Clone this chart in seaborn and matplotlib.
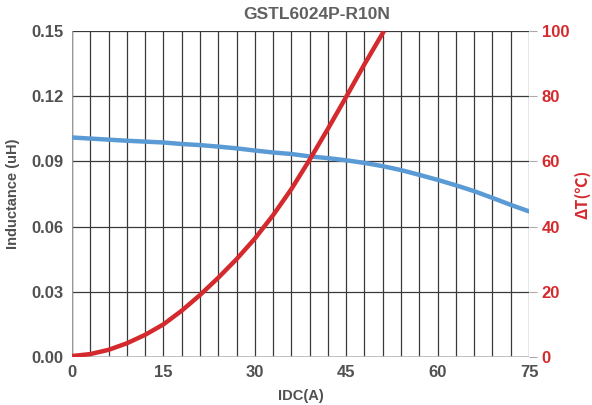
import matplotlib
matplotlib.use("Agg")
import matplotlib.pyplot as plt
import numpy as np
import pandas as pd
import seaborn as sns

# Datos
idc_l = [0, 3, 6, 9, 12, 15, 18, 21, 24, 27, 30, 33, 36, 39, 42, 45, 48, 51, 54, 57, 60, 63, 66, 69, 72, 75]
inductance = [0.1010, 0.1005, 0.1000, 0.0995, 0.0991, 0.0987, 0.0980, 0.0975, 0.0968, 0.0960, 0.0950,
              0.0941, 0.0934, 0.0923, 0.0915, 0.0905, 0.0893, 0.0878, 0.0860, 0.0838, 0.0815,
              0.0790, 0.0763, 0.0732, 0.0700, 0.0670]
idc_t = [0, 3, 6, 9, 12, 15, 18, 21, 24, 27, 30, 33, 36, 39, 42, 45, 48, 51.2]
delta_t = [0.3, 0.9, 2.2, 4.2, 6.8, 10.0, 14.2, 19.0, 24.3, 30.0, 36.3, 43.5, 51.5, 60.5, 70.0, 79.8, 89.8, 100.0]

df_l = pd.DataFrame({"idc": idc_l, "L": inductance})
df_t = pd.DataFrame({"idc": idc_t, "T": delta_t})

sns.set_style("white")
plt.rcParams["font.family"] = ["Liberation Sans", "DejaVu Sans"]
plt.rcParams["font.weight"] = "bold"

gray = "#505050"
red = "#d42a2e"
blue = "#5b9bd5"

fig = plt.figure(figsize=(5.92, 4.05), dpi=100)
ax = fig.add_axes([0.1216, 0.1185, 0.772, 0.805])
ax2 = ax.twinx()

# Rejilla
ax.set_xlim(0, 75)
ax.set_ylim(0, 0.15)
ax.set_xticks(np.arange(0, 76, 15))
ax.set_xticks(np.arange(0, 76, 3), minor=True)
ax.set_yticks([0, 0.03, 0.06, 0.09, 0.12, 0.15])
ax.grid(True, which="both", axis="x", color="#3a3a3a", linewidth=0.9)
ax.grid(True, which="major", axis="y", color="#3a3a3a", linewidth=0.9)
ax.set_axisbelow(True)
for s in list(ax.spines.values()) + list(ax2.spines.values()):
    s.set_visible(False)
ax.axhline(0, color="#bbbbbb", linewidth=1.2, zorder=1)
ax.axvline(0, color="#999999", linewidth=1.0, zorder=1)

sns.lineplot(data=df_l, x="idc", y="L", ax=ax, color=blue, linewidth=3.2,
             solid_joinstyle="round", solid_capstyle="round")
sns.lineplot(data=df_t, x="idc", y="T", ax=ax2, color=red, linewidth=3.2,
             solid_joinstyle="round", solid_capstyle="butt")
ax2.set_ylim(0, 100)
ax2.set_yticks([0, 20, 40, 60, 80, 100])
ax2.grid(False)

ax.yaxis.set_major_formatter(matplotlib.ticker.FormatStrFormatter("%.2f"))
ax.tick_params(axis="both", which="both", length=0, labelsize=12, labelcolor=gray, pad=6)
ax2.tick_params(axis="y", length=6, color="#aaaaaa", labelsize=12, labelcolor=red, pad=3)

ax.set_xlabel("IDC(A)", fontsize=10.5, color=gray, fontweight="bold", labelpad=6)
ax.set_ylabel("Inductance (uH)", fontsize=10.5, color=gray, fontweight="bold", labelpad=8)
ax2.set_ylabel("ΔT(℃)", fontsize=11.5, color=red, fontweight="bold", labelpad=4,
               family=["Noto Sans CJK SC", "DejaVu Sans"])

fig.text(0.535, 0.965, "GSTL6024P-R10N", ha="center", va="center", fontsize=12.5,
         color="#606060", fontweight="bold")

fig.savefig("out.png", dpi=100, facecolor="white")
